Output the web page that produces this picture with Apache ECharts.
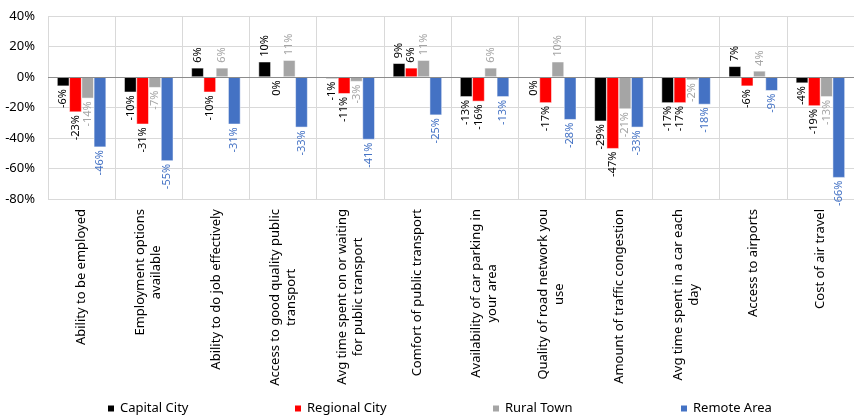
<!DOCTYPE html>
<html><head><meta charset="utf-8">
<script src="https://cdn.jsdelivr.net/npm/echarts@6/dist/echarts.min.js"></script>
<style>html,body{margin:0;padding:0;background:#fff}#c{width:854px;height:415px}</style>
</head><body><div id="c"></div>
<script>
const categories = [
  "Ability to be employed",
  "Employment options\navailable",
  "Ability to do job effectively",
  "Access to good quality public\ntransport",
  "Avg time spent on or waiting\nfor public transport",
  "Comfort of public transport",
  "Availability of car parking in\nyour area",
  "Quality of road network you\nuse",
  "Amount of traffic congestion",
  "Avg time spent in a car each\nday",
  "Access to airports",
  "Cost of air travel"
];
const capitalCity  = [-6, -10, 6, 10, -1, 9, -13, 0, -29, -17, 7, -4];
const regionalCity = [-23, -31, -10, 0, -11, 6, -16, -17, -47, -17, -6, -19];
const ruralTown    = [-14, -7, 6, 11, -3, 11, 6, 10, -21, -2, 4, -13];
const remoteArea   = [-46, -55, -31, -33, -41, -25, -13, -28, -33, -18, -9, -66];
const yTicks = [-80, -60, -40, -20, 0, 20, 40];

const FONT = "Noto Sans";
const seriesDefs = [
  {name: "Capital City", data: capitalCity, color: "#000000", labelColor: "#000000"},
  {name: "Regional City", data: regionalCity, color: "#ff0000", labelColor: "#000000"},
  {name: "Rural Town", data: ruralTown, color: "#a5a5a5", labelColor: "#a5a5a5"},
  {name: "Remote Area", data: remoteArea, color: "#4472c4", labelColor: "#4472c4"}
];

function items(arr) {
  return arr.map(v => ({
    value: v,
    label: v > 0
      ? {position: "top", align: "left", distance: 5}
      : {position: "bottom", align: "right", distance: 3}
  }));
}

const series = seriesDefs.map((s, i) => ({
  name: s.name,
  type: "bar",
  data: items(s.data),
  barGap: "0%",
  barCategoryGap: "27%",
  itemStyle: {color: s.color, borderColor: "#ffffff", borderWidth: 0.5},
  label: {
    show: true,
    rotate: 90,
    verticalAlign: "middle",
    formatter: p => p.value + "%",
    color: s.labelColor,
    fontFamily: FONT,
    fontSize: 11
  },
  markLine: i === 0 ? {
    silent: true, symbol: ["none", "none"], label: {show: false},
    lineStyle: {color: "#8c8c8c", type: "solid", width: 1},
    data: [{yAxis: 0}]
  } : undefined
}));

const legendLeft = [106, 293, 491, 679];
const legends = seriesDefs.map((s, i) => ({
  data: [s.name],
  left: legendLeft[i],
  top: 402,
  padding: 0,
  icon: "rect",
  itemWidth: 8,
  itemHeight: 8,
  selectedMode: false,
  textStyle: {fontFamily: FONT, fontSize: 13, color: "#000"}
}));

const chart = echarts.init(document.getElementById("c"));
chart.setOption({
  animation: false,
  textStyle: {fontFamily: FONT},
  grid: {left: 48, right: -8, top: 16, bottom: 216, containLabel: false},
  legend: legends,
  xAxis: {
    type: "category",
    data: categories,
    axisLine: {show: false, onZero: false},
    axisTick: {show: false},
    splitLine: {show: true, interval: 0, lineStyle: {color: "#d9d9d9", width: 1}},
    axisLabel: {
      interval: 0,
      rotate: 90,
      margin: 10,
      color: "#000",
      fontFamily: FONT,
      fontSize: 13,
      formatter: v => v.split("\n").map(l => "{c|" + l + "}").join("\n"),
      rich: {c: {align: "center", fontFamily: FONT, fontSize: 13, lineHeight: 16, color: "#000"}}
    }
  },
  yAxis: {
    type: "value",
    min: yTicks[0],
    max: yTicks[yTicks.length - 1],
    interval: 20,
    axisLine: {show: false},
    axisTick: {show: false},
    splitLine: {lineStyle: {color: "#d9d9d9", width: 1}},
    axisLabel: {formatter: "{value}%", color: "#000", fontFamily: FONT, fontSize: 13, margin: 13}
  },
  series: series
});
</script>
</body></html>
